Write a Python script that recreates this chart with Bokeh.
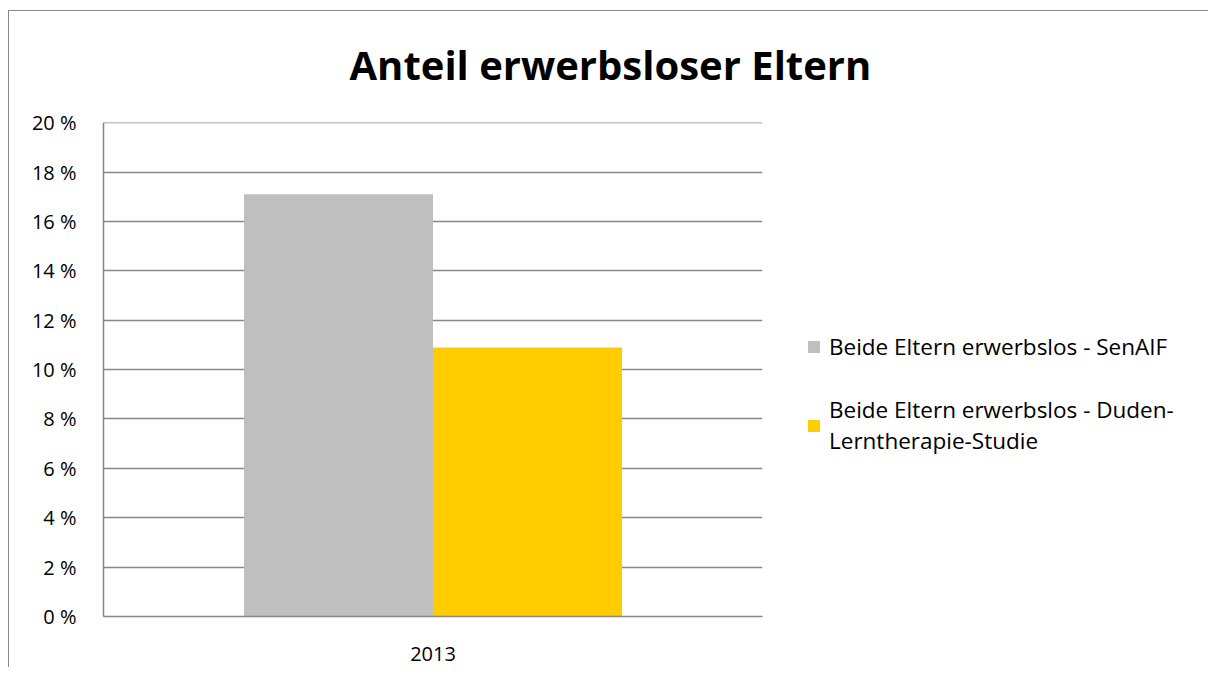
from bokeh.plotting import figure
from bokeh.models import (FactorRange, Range1d, PrintfTickFormatter, FixedTicker,
                          Title, Legend, LegendItem, ColumnDataSource)
from bokeh.transform import dodge
from bokeh.embed import file_html
from bokeh.resources import INLINE

# ---- data ----
years = ["2013"]
senaif = [17.1]
duden = [10.9]
series_names = ["Beide Eltern erwerbslos - SenAIF",
                "Beide Eltern erwerbslos - Duden-\nLerntherapie-Studie"]
y_ticks = [0, 2, 4, 6, 8, 10, 12, 14, 16, 18, 20]
title_text = "Anteil erwerbsloser Eltern"

FONT = "Open Sans"
GRID = "#888888"

src = ColumnDataSource(dict(year=years, senaif=senaif, duden=duden))

p = figure(frame_width=659, frame_height=494, x_range=FactorRange(*years),
           y_range=Range1d(0, 20.01), output_backend="svg", toolbar_location=None,
           min_border_left=103, min_border_right=0, min_border_top=122,
           min_border_bottom=51, title=None,
           styles={"box-shadow": "inset 8px 10px 0 0 #ffffff, inset 9px 11px 0 0 #888888"})
p.border_fill_alpha = 0
p.x_range.range_padding = 0
p.outline_line_color = None

r1 = p.vbar(x=dodge("year", -0.1434, range=p.x_range), top="senaif", width=0.2868,
            source=src, fill_color="#bfbfbf", line_color=None)
r2 = p.vbar(x=dodge("year", 0.1434, range=p.x_range), top="duden", width=0.2868,
            source=src, fill_color="#ffcc00", line_color=None)

p.xgrid.grid_line_color = None
p.ygrid.grid_line_color = GRID
p.ygrid.grid_line_width = 1.5
p.yaxis.ticker = FixedTicker(ticks=y_ticks)
p.yaxis.formatter = PrintfTickFormatter(format="%d %%")
for ax in (p.xaxis[0], p.yaxis[0]):
    ax.axis_line_color = GRID
    ax.axis_line_width = 1.5
    ax.major_tick_line_color = None
    ax.minor_tick_line_color = None
    ax.major_label_text_font = FONT
    ax.major_label_text_font_size = "20px"
    ax.major_label_text_color = "#000000"
p.yaxis.major_label_standoff = 21
p.xaxis.major_label_standoff = 24

p.add_layout(Title(text=title_text, align="left", offset=246, standoff=62,
                   text_font=FONT, text_font_size="40px", text_font_style="bold",
                   text_color="#000000"), "above")

legend = Legend(items=[LegendItem(label=series_names[0], renderers=[r1]),
                       LegendItem(label=series_names[1], renderers=[r2])],
                location=(44, 160), glyph_width=15, glyph_height=15,
                label_text_font=FONT, label_text_font_size="22.5px",
                label_text_line_height=1.55, label_text_color="#000000",
                label_standoff=8, spacing=32, padding=0, margin=0,
                border_line_color=None, background_fill_alpha=0)
p.add_layout(legend, "right")

open("out.html", "w").write(file_html(p, INLINE))
